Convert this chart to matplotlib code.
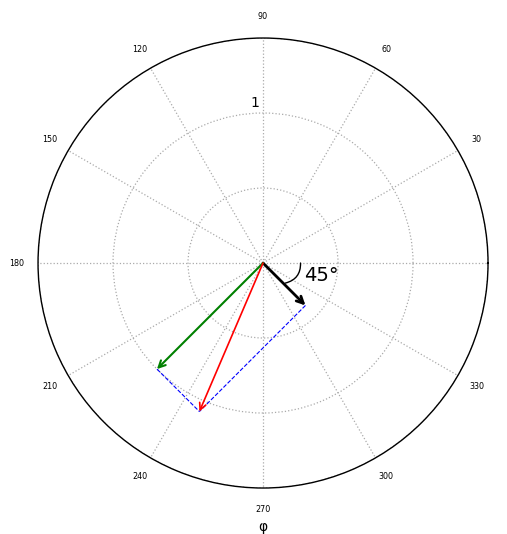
import numpy as np

import matplotlib
matplotlib.use('Agg')
import matplotlib.pyplot as plt

# vectors in polar form: angle in degrees, magnitude
phi_a, mag_a = 225.0, 1.0   # green
phi_b, mag_b = 315.0, 0.4   # black
angle_label = '45°'
theta_ticks = [0, 30, 60, 90, 120, 150, 180, 210, 240, 270, 300, 330]
theta_labels = [''] + [str(t) for t in theta_ticks[1:]]
r_ticks = [0.5, 1.0, 1.5]
r_tick_labels = ['', '1', '']
r_max = 1.5


def to_xy(phi, mag):
    t = np.radians(phi)
    return mag * np.cos(t), mag * np.sin(t)


def to_polar(x, y):
    return np.arctan2(y, x), np.hypot(x, y)


ax_, ay_ = to_xy(phi_a, mag_a)
bx_, by_ = to_xy(phi_b, mag_b)
# resultant
th_s, r_s = to_polar(ax_ + bx_, ay_ + by_)

fig = plt.figure(figsize=(5.07, 5.34), dpi=100)
ax = fig.add_axes([0.075, 0.0861, 0.8876, 0.8427], projection='polar')
ax.set_ylim(0, r_max)
ax.set_thetagrids(theta_ticks, theta_labels, fontsize=5.8)
ax.set_rgrids(r_ticks, r_tick_labels)
ax.set_yticklabels([])
ax.grid(True, color='#aaaaaa', linestyle=':', linewidth=0.9)
ax.xaxis.set_tick_params(pad=5)
ax.spines['polar'].set_linewidth(1.0)
ax.text(np.radians(93), 1.07, '1', fontsize=10, ha='center', va='center')


def arrow(phi, mag, color, lw, start=(0, 0)):
    ax.annotate('', xy=(phi, mag), xytext=start,
                arrowprops=dict(arrowstyle='->', color=color, lw=lw,
                                shrinkA=0, shrinkB=0, mutation_scale=12))


arrow(np.radians(phi_b), mag_b, 'black', 2.0)
arrow(np.radians(phi_a), mag_a, 'green', 1.5)
arrow(th_s, r_s, 'red', 1.2)

# parallelogram sides
ax.plot([np.radians(phi_b), th_s], [mag_b, r_s], color='blue', linestyle='--', lw=0.8)
ax.plot([np.radians(phi_a), th_s], [mag_a, r_s], color='blue', linestyle='--', lw=0.8)

# angle marker
ax.annotate('', xy=(np.radians(-42), 0.2), xytext=(0, 0.25),
            arrowprops=dict(arrowstyle='-', color='black', lw=1.0,
                            shrinkA=0, shrinkB=0,
                            connectionstyle='arc3,rad=-0.4'))
ax.text(np.radians(-12), 0.4, angle_label, fontsize=14, ha='center', va='center')

ax.set_xlabel('φ', fontsize=10, labelpad=4)

fig.savefig('out.png', dpi=100)
plt.close(fig)
